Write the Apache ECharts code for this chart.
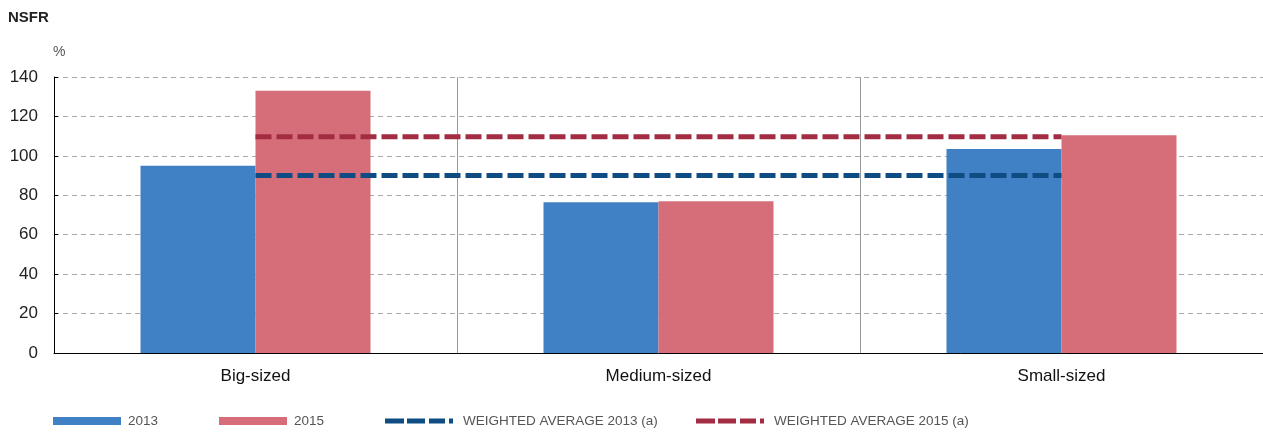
<!DOCTYPE html>
<html><head><meta charset="utf-8">
<script src="https://cdn.jsdelivr.net/npm/echarts@6/dist/echarts.min.js"></script>
<style>html,body{margin:0;padding:0;background:#fff}#c{width:1263px;height:435px}</style>
</head><body><div id="c"></div>
<script>
const categories = ['Big-sized', 'Medium-sized', 'Small-sized'];
const values2013 = [95, 76.5, 103.5];
const values2015 = [133, 77, 110.5];
const wavg2013 = [90, 90, 90];
const wavg2015 = [109.7, 109.7, 109.7];
const yTicks = [0, 20, 40, 60, 80, 100, 120, 140];

const dashIcon = 'path://M0,0h19v5h-19z M22,0h18v5h-18z M44,0h16v5h-16z M64,0h4v5h-4z';
function lg(name, left, dashed) {
  return {data: [name], left: left, top: 414, itemWidth: 68, itemHeight: dashed ? 5 : 8, itemGap: 0,
    textStyle: {fontFamily: 'Liberation Sans, Arial, sans-serif', fontSize: 13.5, color: '#555',
      padding: [0, 0, 0, dashed ? 5 : 2]},
    padding: 0, icon: dashed ? dashIcon : 'rect'};
}

const chart = echarts.init(document.getElementById('c'));
chart.setOption({
  animation: false,
  textStyle: {fontFamily: 'Helvetica, Arial, Liberation Sans, sans-serif'},
  title: [
    {text: 'NSFR', left: 8, top: 10, padding: 0, textStyle: {fontSize: 15, fontWeight: 'bold', color: '#222'}},
    {text: '%', left: 53, top: 45, padding: 0, textStyle: {fontSize: 14, fontWeight: 'normal', color: '#555'}}
  ],
  legend: [
    lg('2013', 53, false),
    lg('2015', 219, false),
    lg('WEIGHTED AVERAGE 2013 (a)', 385, true),
    lg('WEIGHTED AVERAGE 2015 (a)', 696, true)
  ],
  grid: {left: 54, right: -3, top: 77, bottom: 82, containLabel: false},
  xAxis: {
    type: 'category', data: categories, boundaryGap: true,
    axisLine: {lineStyle: {color: '#000', width: 1}},
    axisTick: {show: false},
    axisLabel: {fontSize: 17, color: '#111', margin: 15},
    splitLine: {show: true, lineStyle: {color: '#999', width: 1}}
  },
  yAxis: {
    type: 'value', min: 0, max: 140, interval: 20,
    axisLine: {show: true, lineStyle: {color: '#000', width: 1}},
    axisTick: {show: true, inside: true, length: 4, lineStyle: {color: '#000'}},
    axisLabel: {fontSize: 17, color: '#222', margin: 16,
      formatter: v => yTicks.indexOf(v) >= 0 ? String(v) : ''},
    splitLine: {show: true, lineStyle: {color: '#aaa', type: [5, 4], width: 1}}
  },
  series: [
    {name: '2013', type: 'bar', data: values2013, barWidth: 115, barGap: '0%',
      itemStyle: {color: '#4080c4'}},
    {name: '2015', type: 'bar', data: values2015, barWidth: 115, barGap: '0%',
      itemStyle: {color: '#d66e79'}},
    {name: 'WEIGHTED AVERAGE 2013 (a)', type: 'line', data: wavg2013, symbol: 'none', z: 5,
      itemStyle: {color: '#0f4c84'},
      lineStyle: {color: '#0f4c84', width: 5, type: [16, 5]}},
    {name: 'WEIGHTED AVERAGE 2015 (a)', type: 'line', data: wavg2015, symbol: 'none', z: 5,
      itemStyle: {color: '#a22c42'},
      lineStyle: {color: '#a22c42', width: 5, type: [16, 5]}}
  ]
});
</script></body></html>
